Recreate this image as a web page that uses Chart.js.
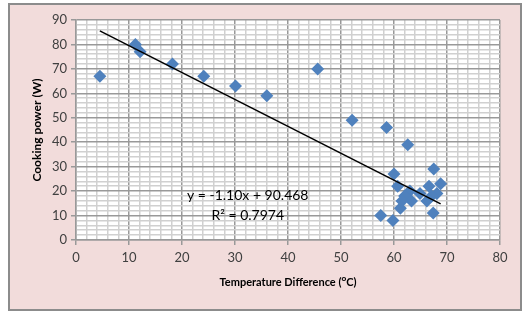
<!DOCTYPE html>
<html>
<head>
<meta charset="utf-8">
<script src="https://cdn.jsdelivr.net/npm/chart.js@4"></script>
<style>
  html, body { margin: 0; padding: 0; background: #fff; }
  #chart { display: block; }
</style>
</head>
<body>
<canvas id="chart" width="529" height="321"></canvas>
<script>
// data
const tempDiff = [
  4.5, 11.2, 12.1, 18.2, 24.1, 30.1, 36.0, 45.6, 52.1, 58.6,
  62.6, 60.0, 67.5, 60.7, 68.8, 66.6, 63.0, 62.0, 64.9, 66.2,
  68.1, 63.3, 61.2, 67.4, 57.5, 59.8, 67.1, 61.5
];
const cookingPower = [
  67, 80, 77, 72, 67, 63, 59, 70, 49, 46,
  39, 27, 29, 22, 23, 22, 20, 18, 19, 16,
  19, 16, 13, 11, 10, 8, 18, 16
];
const xTicks = [0, 10, 20, 30, 40, 50, 60, 70, 80];
const yTicks = [0, 10, 20, 30, 40, 50, 60, 70, 80, 90];

// trendline as printed on the chart
const trendSlope = -1.10;
const trendIntercept = 90.468;
const trendLabel = ['y = -1.10x + 90.468', 'R\u00b2 = 0.7974'];

const points = tempDiff.map((x, i) => ({ x: x, y: cookingPower[i] }));
const xMin = Math.min(...tempDiff);
const xMax = Math.max(...tempDiff);
const trend = [
  { x: xMin, y: trendSlope * xMin + trendIntercept },
  { x: xMax, y: trendSlope * xMax + trendIntercept }
];

const majorGrid = '#999999';
const minorGrid = '#d0d0d0';
const labelFont = { family: 'Lato, "Open Sans", sans-serif', size: 13 };

const isMajor = (v, list) => list.includes(Math.round(v * 100) / 100);

const frame = {
  id: 'frame',
  beforeDraw(chart) {
    const c = chart.ctx;
    c.save();
    c.fillStyle = '#ffffff';
    c.fillRect(0, 0, chart.width, chart.height);
    c.fillStyle = '#F2DCDB';
    c.fillRect(9, 4, 512, 306);
    c.strokeStyle = '#8c8c8c';
    c.lineWidth = 2;
    c.strokeRect(9, 4, 512, 306);
    const a = chart.chartArea;
    c.fillStyle = '#ffffff';
    c.fillRect(a.left, a.top, a.right - a.left, a.bottom - a.top);
    c.restore();
  },
  afterDatasetsDraw(chart) {
    const c = chart.ctx;
    const sx = chart.scales.x, sy = chart.scales.y;
    c.save();
    c.font = '14px Lato, "Open Sans", sans-serif';
    c.fillStyle = '#000';
    c.textAlign = 'center';
    c.textBaseline = 'middle';
    c.fillText(trendLabel[0], sx.getPixelForValue(32.4), sy.getPixelForValue(18.4));
    c.fillText(trendLabel[1], sx.getPixelForValue(32.4), sy.getPixelForValue(10.2));
    c.restore();
  }
};

const config = {
  type: 'scatter',
  data: {
    datasets: [{
      label: 'Cooking power',
      data: points,
      pointStyle: 'rectRot',
      pointRadius: 6.5,
      backgroundColor: '#4F81BD',
      borderColor: '#4F81BD',
      borderWidth: 0,
      order: 2
    }, {
      type: 'line',
      label: 'Trend',
      data: trend,
      borderColor: '#000000',
      borderWidth: 1.5,
      pointRadius: 0,
      fill: false,
      order: 1
    }]
  },
  options: {
    responsive: false,
    animation: false,
    layout: { padding: { left: 0, right: 29, top: 20, bottom: 0 } },
    plugins: {
      legend: { display: false },
      tooltip: { enabled: false }
    },
    scales: {
      x: {
        type: 'linear',
        min: 0,
        max: 80,
        afterFit: s => { s.height = 81; },
        border: { color: majorGrid, width: 1.5 },
        grid: {
          color: ctx => isMajor(ctx.tick.value, xTicks) ? majorGrid : minorGrid,
          lineWidth: 1.5,
          tickColor: ctx => isMajor(ctx.tick.value, xTicks) ? majorGrid : 'rgba(0,0,0,0)',
          tickLength: 5
        },
        ticks: {
          stepSize: 2,
          autoSkip: false,
          maxTicksLimit: 100,
          maxRotation: 0,
          padding: 5,
          color: '#404040',
          font: labelFont,
          callback: v => isMajor(v, xTicks) ? v : ''
        },
        title: {
          display: true,
          text: 'Temperature Difference (\u1D3CC)',
          color: '#000',
          font: { family: 'Lato, "Open Sans", sans-serif', size: 11, weight: 'bold' },
          padding: { top: 0, bottom: 32 }
        }
      },
      y: {
        type: 'linear',
        min: 0,
        max: 90,
        afterFit: s => { s.width = 76; },
        border: { color: majorGrid, width: 1.5 },
        grid: {
          color: ctx => isMajor(ctx.tick.value, yTicks) ? majorGrid : minorGrid,
          lineWidth: 1.5,
          tickColor: ctx => isMajor(ctx.tick.value, yTicks) ? majorGrid : 'rgba(0,0,0,0)',
          tickLength: 5
        },
        ticks: {
          stepSize: 2,
          autoSkip: false,
          maxTicksLimit: 100,
          padding: 4,
          color: '#404040',
          font: labelFont,
          callback: v => isMajor(v, yTicks) ? v : ''
        },
        title: {
          display: true,
          text: 'Cooking power (W)',
          color: '#000',
          font: { family: 'Lato, "Open Sans", sans-serif', size: 12, weight: 'bold' },
          padding: { top: 30, bottom: 0 }
        }
      }
    }
  },
  plugins: [frame]
};

const chart = new Chart(document.getElementById('chart').getContext('2d'), config);
</script>
</body>
</html>
